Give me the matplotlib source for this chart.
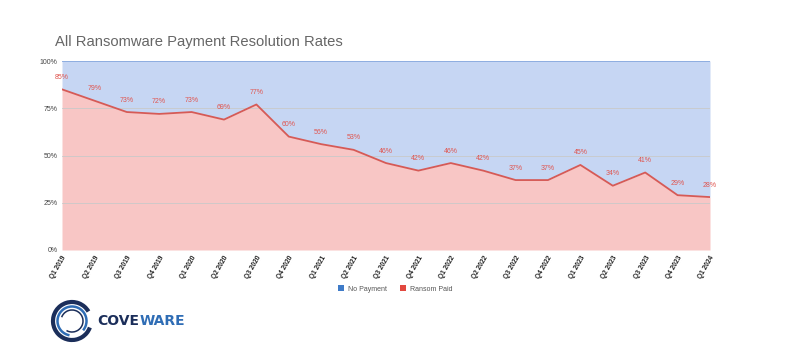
import matplotlib
matplotlib.use("Agg")
import matplotlib.pyplot as plt
from matplotlib.patches import Arc, Patch
import numpy as np

quarters = ["Q1 2019", "Q2 2019", "Q3 2019", "Q4 2019", "Q1 2020", "Q2 2020", "Q3 2020",
            "Q4 2020", "Q1 2021", "Q2 2021", "Q3 2021", "Q4 2021", "Q1 2022", "Q2 2022",
            "Q3 2022", "Q4 2022", "Q1 2023", "Q2 2023", "Q3 2023", "Q4 2023", "Q1 2024"]
ransom_paid = [85, 79, 73, 72, 73, 69, 77, 60, 56, 53, 46, 42, 46, 42, 37, 37, 45, 34, 41, 29, 28]
y_ticks = [0, 25, 50, 75, 100]

plt.rcParams['font.family'] = ['Liberation Sans', 'DejaVu Sans']

fig = plt.figure(figsize=(8, 3.6), dpi=100)
ax = fig.add_axes([62/800, 1-250/360, (710-62)/800, (250-61)/360])

x = np.arange(len(quarters))
paid = np.array(ransom_paid)
ax.fill_between(x, paid, 100, color="#c6d6f3", lw=0, zorder=1)
ax.fill_between(x, 0, paid, color="#f8c6c5", lw=0, zorder=1)
ax.plot(x, paid, color="#d65a56", lw=1.3, zorder=3)
ax.axhline(100, color="#7fa3dc", lw=1.2, zorder=3)

for yt in y_ticks[1:4]:
    ax.axhline(yt, color="#c9c9c9", lw=0.6, zorder=2)

for xi, v in zip(x, paid):
    ax.text(xi, v + 4.5, f"{v}%", ha="center", va="bottom", fontsize=5,
            color="#e0554f", zorder=4)

ax.set_xlim(0, len(quarters) - 1)
ax.set_ylim(0, 100)
ax.set_yticks(y_ticks)
ax.set_yticklabels([f"{t}%" for t in y_ticks], fontsize=5, color="#444444")
ax.set_xticks(x)
ax.set_xticklabels(quarters, rotation=60, ha="right", rotation_mode="anchor",
                   fontsize=4.8, fontweight="bold", color="#222222")
ax.tick_params(axis="both", length=0, pad=3)
for s in ax.spines.values():
    s.set_visible(False)

fig.text(55/800, 1-42/360, "All Ransomware Payment Resolution Rates", fontsize=10.6,
         color="#666666", ha="left", va="center")

handles = [Patch(facecolor="#3f7bc8", edgecolor="none", label="No Payment"),
           Patch(facecolor="#e2483f", edgecolor="none", label="Ransom Paid")]
fig.legend(handles=handles, loc="center", bbox_to_anchor=(395/800, 1-289/360), ncol=2,
           frameon=False, fontsize=5, handlelength=0.9, handleheight=0.9,
           columnspacing=1.8, handletextpad=0.6, labelcolor="#555555")

# logo
lax = fig.add_axes([0, 0, 1, 1], zorder=-1)
lax.set_xlim(0, 800)
lax.set_ylim(360, 0)
lax.axis("off")
lax.set_aspect("equal")
cx, cy = 72, 321
lax.add_patch(Arc((cx, cy), 38, 38, theta1=20, theta2=330, color="#1b2e5a", lw=3.0))
lax.add_patch(Arc((cx, cy), 29, 29, theta1=100, theta2=400, color="#2f6db5", lw=1.8))
lax.add_patch(Arc((cx, cy), 22, 22, theta1=200, theta2=480, color="#1b2e5a", lw=1.1))
t1 = lax.text(97, 321, "COVE", fontsize=10, fontweight="bold", color="#1b2e5a",
              ha="left", va="center", family="DejaVu Sans Condensed")
fig.canvas.draw()
bb = t1.get_window_extent(renderer=fig.canvas.get_renderer())
x_end = lax.transData.inverted().transform((bb.x1, bb.y0))[0]
lax.text(x_end + 0.5, 321, "WARE", fontsize=10, fontweight="bold", color="#2f6db5",
         ha="left", va="center", family="DejaVu Sans Condensed")

fig.savefig("out.png", dpi=100)
